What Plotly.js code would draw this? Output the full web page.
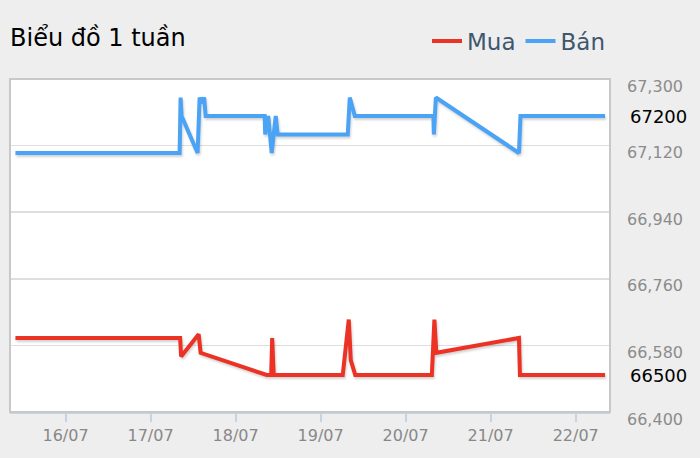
<!DOCTYPE html>
<html>
<head>
<meta charset="utf-8">
<script src="https://cdn.plot.ly/plotly-3.0.1.min.js"></script>
<style>
html,body{margin:0;padding:0;background:#eeeeee;}
#chart{width:700px;height:458px;}
</style>
</head>
<body>
<div id="chart"></div>
<script>
// ---- data ----
var buyTimes = [
  "2019-07-15 09:52","2019-07-17 08:21","2019-07-17 08:38","2019-07-17 13:35","2019-07-17 14:08",
  "2019-07-18 08:47","2019-07-18 10:03","2019-07-18 10:20","2019-07-18 10:46",
  "2019-07-19 06:15","2019-07-19 07:57","2019-07-19 08:31","2019-07-19 09:47",
  "2019-07-20 07:24","2019-07-20 08:07","2019-07-20 08:40",
  "2019-07-21 07:59","2019-07-21 08:16","2019-07-22 08:17"
];
var buyValues = [
  66600,66600,66550,66610,66560,
  66500,66500,66600,66500,
  66500,66650,66540,66500,
  66500,66650,66560,
  66600,66500,66500
];
var sellTimes = [
  "2019-07-15 09:52","2019-07-17 08:13","2019-07-17 08:29","2019-07-17 08:46","2019-07-17 13:17",
  "2019-07-17 13:51","2019-07-17 14:34","2019-07-17 15:08","2019-07-17 15:33",
  "2019-07-18 08:13","2019-07-18 08:22","2019-07-18 09:13","2019-07-18 10:12","2019-07-18 11:20","2019-07-18 11:53",
  "2019-07-19 07:40","2019-07-19 08:14","2019-07-19 09:39",
  "2019-07-20 07:50","2019-07-20 07:58","2019-07-20 08:32",
  "2019-07-21 07:59","2019-07-21 08:25","2019-07-22 08:17"
];
var sellValues = [
  67100,67100,67250,67200,67100,
  67250,67235,67250,67200,
  67200,67150,67200,67100,67200,67150,
  67150,67250,67200,
  67200,67150,67250,
  67100,67200,67200
];
var xTickVals = ["2019-07-16","2019-07-17","2019-07-18","2019-07-19","2019-07-20","2019-07-21","2019-07-22"];
var xTickText = ["16/07","17/07","18/07","19/07","20/07","21/07","22/07"];
var yTickVals = [66400,66580,66760,66940,67120,67300];
var yTickText = ["66,400","66,580","66,760","66,940","67,120","67,300"];
var currentBuy = 66500;
var currentSell = 67200;
var titleText = "Biểu đồ 1 tuần";
var seriesNames = ["Mua","Bán"];

var FONT = "DejaVu Sans, Liberation Sans, sans-serif";

var traces = [
  {x: buyTimes, y: buyValues, name: seriesNames[0], type: "scatter", mode: "lines",
   line: {color: "#ec3224", width: 4}},
  {x: sellTimes, y: sellValues, name: seriesNames[1], type: "scatter", mode: "lines",
   line: {color: "#4aa3f5", width: 4}}
];

var layout = {
  width: 700, height: 458,
  paper_bgcolor: "#eeeeee",
  plot_bgcolor: "#ffffff",
  margin: {l: 10, r: 90, t: 79, b: 46},
  font: {family: FONT, color: "#888888"},
  showlegend: true,
  hovermode: false,
  title: {text: titleText, x: 10/700, xref: "container", xanchor: "left",
          y: 1 - 38/458, yref: "container", yanchor: "middle",
          font: {family: FONT, size: 24, color: "#000000"}},
  legend: {orientation: "h", x: 1.0, xanchor: "right", y: 1 + 38/333, yanchor: "middle",
           font: {family: FONT, size: 23, color: "#3e576f"}, bgcolor: "rgba(0,0,0,0)",
           itemwidth: 30, traceorder: "normal"},
  xaxis: {type: "date", range: ["2019-07-15 08:20", "2019-07-22 09:41"],
          tickmode: "array", tickvals: xTickVals, ticktext: xTickText,
          ticks: "outside", ticklen: 8, tickwidth: 2, tickcolor: "#c5d3e2",
          showline: true, linecolor: "#c5d3e2", linewidth: 2,
          showgrid: false, zeroline: false,
          tickfont: {family: FONT, size: 16, color: "#888888"}},
  yaxis: {range: [66400, 67300], side: "right",
          tickmode: "array", tickvals: yTickVals, ticktext: yTickText,
          ticks: "", showline: false, zeroline: false,
          showgrid: true, gridcolor: "#dedede", gridwidth: 1.5,
          ticklabelshift: 7, ticklabelstandoff: 16,
          tickfont: {family: FONT, size: 16, color: "#8c8c8c"}},
  shapes: [
    {type: "rect", xref: "paper", yref: "paper", x0: 0, x1: 1, y0: 0, y1: 1,
     line: {color: "#c8c8c8", width: 2}, fillcolor: "rgba(0,0,0,0)", layer: "above"}
  ],
  annotations: [
    {xref: "paper", yref: "y", x: (628-10)/600, y: currentSell, xanchor: "left", yanchor: "middle",
     text: String(currentSell), showarrow: false, font: {family: FONT, size: 18, color: "#000000"}},
    {xref: "paper", yref: "y", x: (628-10)/600, y: currentBuy, xanchor: "left", yanchor: "middle",
     text: String(currentBuy), showarrow: false, font: {family: FONT, size: 18, color: "#000000"}}
  ]
};

Plotly.newPlot("chart", traces, layout, {displayModeBar: false, staticPlot: true}).then(function(){
  document.querySelectorAll(".scatterlayer .js-line").forEach(function(p){
    p.style.filter = "drop-shadow(1px 2px 1px rgba(0,0,0,0.18))";
  });
});
</script>
</body>
</html>
